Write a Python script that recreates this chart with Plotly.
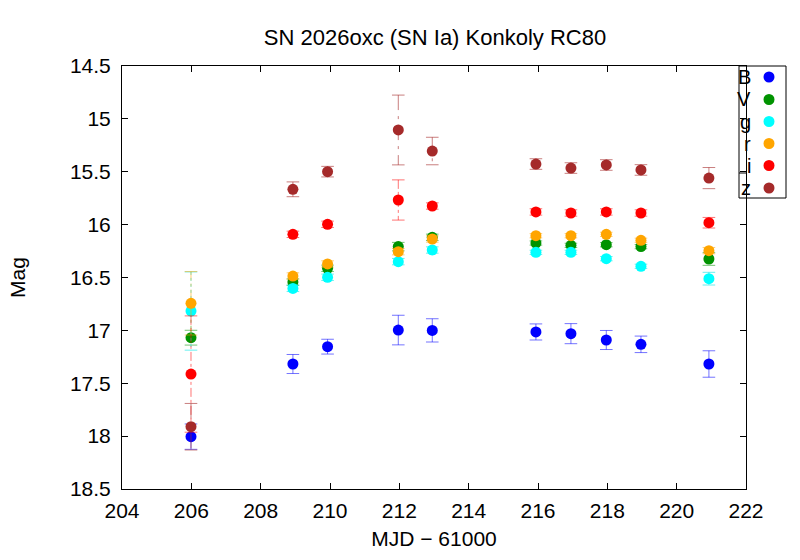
import plotly.graph_objects as go

# ---- data ----
mjd = [205.99, 208.93, 209.93, 211.97, 212.95, 215.94, 216.95, 217.97, 218.97, 220.93]

B = [18.005, 17.318, 17.154, 16.997, 17.00, 17.015, 17.031, 17.091, 17.132, 17.318]
B_err = [0.12, 0.09, 0.07, 0.14, 0.11, 0.076, 0.095, 0.09, 0.078, 0.125]
V = [17.069, 16.543, 16.413, 16.208, 16.12, 16.174, 16.196, 16.19, 16.208, 16.325]
V_err = [0.07, 0.03, 0.03, 0.04, 0.03, 0.02, 0.02, 0.02, 0.02, 0.06]
g = [16.817, 16.603, 16.498, 16.35, 16.24, 16.262, 16.262, 16.322, 16.394, 16.511]
g_err = [0.37, 0.03, 0.03, 0.03, 0.03, 0.02, 0.02, 0.02, 0.02, 0.06]
r = [16.744, 16.486, 16.372, 16.256, 16.136, 16.105, 16.105, 16.092, 16.148, 16.246]
r_err = [0.30, 0.03, 0.03, 0.03, 0.03, 0.02, 0.02, 0.02, 0.02, 0.03]
i = [17.413, 16.092, 15.997, 15.767, 15.824, 15.88, 15.89, 15.88, 15.89, 15.982]
i_err = [0.55, 0.03, 0.03, 0.19, 0.03, 0.03, 0.03, 0.03, 0.03, 0.05]
z = [17.911, 15.666, 15.499, 15.105, 15.304, 15.427, 15.465, 15.436, 15.483, 15.56]
z_err = [0.22, 0.07, 0.05, 0.33, 0.13, 0.05, 0.05, 0.05, 0.05, 0.10]

bands = ["B", "V", "g", "r", "i", "z"]
values = [B, V, g, r, i, z]
errors = [B_err, V_err, g_err, r_err, i_err, z_err]
colors = ["#0000ff", "#009300", "#00ffff", "#ffa500", "#ff0000", "#a52a2a"]
err_colors = ["rgba(0,0,255,0.55)", "rgba(0,147,0,0.55)", "rgba(0,230,230,0.6)",
              "rgba(255,165,0,0.55)", "rgba(255,0,0,0.55)", "rgba(165,42,42,0.6)"]
dashes = ["solid", "dash", "dot", "dashdot", "dashdot", "longdashdot"]

# ---- geometry (pixels) ----
W, H = 800, 560
L, R, T, Bt = 122, 746, 66, 489
PW, PH = R - L, Bt - T

def px(x):
    return (x - L) / PW

def py(y):
    return (Bt - y) / PH

fig = go.Figure()
FONT = "Liberation Sans, Arial, Helvetica, sans-serif"
FS = 21

for name, vals, errs, col, ecol, dsh in zip(bands, values, errors, colors, err_colors, dashes):
    ex, ey = [], []
    for xv, yv, e in zip(mjd, vals, errs):
        ex += [xv, xv, None]
        ey += [yv - e, yv + e, None]
    fig.add_trace(go.Scatter(x=ex, y=ey, mode="lines",
                             line=dict(color=ecol, width=1, dash=dsh),
                             showlegend=False, hoverinfo="skip"))
    capx = mjd + mjd
    capy = [yv - e for yv, e in zip(vals, errs)] + [yv + e for yv, e in zip(vals, errs)]
    fig.add_trace(go.Scatter(x=capx, y=capy, mode="markers",
                             marker=dict(symbol="line-ew", size=9,
                                         line=dict(color=ecol, width=1)),
                             showlegend=False, hoverinfo="skip"))
    fig.add_trace(go.Scatter(x=mjd, y=vals, mode="markers", name=name,
                             marker=dict(color=col, size=11, line=dict(width=0)),
                             showlegend=False))

# ---- custom legend (gnuplot style) ----
shapes = [
    dict(type="rect", xref="paper", yref="paper", x0=px(739), x1=px(786), y0=py(198), y1=py(66),
         line=dict(color="black", width=1)),
    dict(type="line", xref="paper", yref="paper", x0=px(739), x1=px(746), y0=py(173), y1=py(173),
         line=dict(color="black", width=1)),
]
annotations = []
leg_y = [77, 99.5, 121.5, 143.5, 165.5, 188]
for name, col, ly in zip(bands, colors, leg_y):
    shapes.append(dict(type="circle", xref="paper", yref="paper",
                       x0=px(769 - 5.5), x1=px(769 + 5.5), y0=py(ly + 5.5), y1=py(ly - 5.5),
                       fillcolor=col, line=dict(width=0)))
    annotations.append(dict(xref="paper", yref="paper", x=px(753), y=py(ly),
                            text=name, showarrow=False, xanchor="right", yanchor="middle",
                            font=dict(family=FONT, size=20, color="black")))

fig.update_layout(
    width=W, height=H,
    margin=dict(l=L, r=W - R, t=T, b=H - Bt),
    paper_bgcolor="white", plot_bgcolor="white",
    title=dict(text="SN 2026oxc (SN Ia) Konkoly RC80", xref="paper", x=px(435), xanchor="center",
               yref="container", y=1 - 37 / H, yanchor="middle",
               font=dict(family=FONT, size=22, color="black")),
    font=dict(family=FONT, size=FS, color="black"),
    shapes=shapes, annotations=annotations,
    showlegend=False,
)
fig.update_xaxes(range=[204, 222], dtick=2, tick0=204, showgrid=False, zeroline=False,
                 ticks="inside", ticklen=6, tickcolor="black", mirror="ticks",
                 showline=True, linecolor="black", linewidth=1,
                 tickfont=dict(family=FONT, size=FS), ticklabelstandoff=3,
                 title=dict(text="MJD − 61000", font=dict(family=FONT, size=FS), standoff=10))
fig.update_yaxes(range=[18.5, 14.5], dtick=0.5, tick0=14.5, showgrid=False, zeroline=False,
                 ticks="inside", ticklen=6, tickcolor="black", mirror="ticks",
                 showline=True, linecolor="black", linewidth=1,
                 tickfont=dict(family=FONT, size=FS), ticklabelstandoff=6,
                 title=dict(text="Mag", font=dict(family=FONT, size=FS), standoff=38))

fig.write_html("out.html")
